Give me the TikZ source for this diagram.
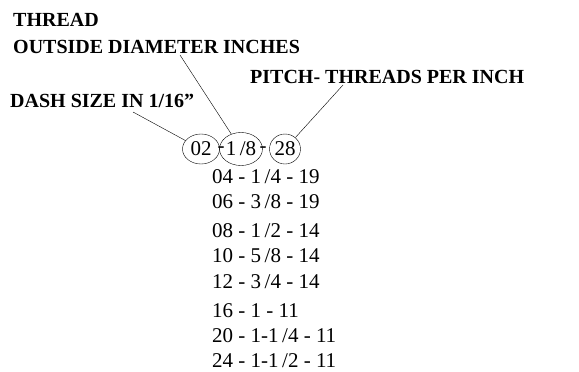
\documentclass[tikz,border=0pt]{standalone}
\usepackage{fontspec}
\setmainfont{Liberation Serif}
\usetikzlibrary{positioning,shapes.geometric}

\begin{document}
\begin{tikzpicture}[x=1pt,y=-1pt,
          every node/.style={inner sep=0pt,font=\fontsize{21}{25}\selectfont},
          label/.style={anchor=base west,font=\fontsize{20}{24}\selectfont\bfseries},
          ring/.style={ellipse,draw,thin,inner sep=0pt},
          leader/.style={draw,thin}]
        \useasboundingbox (0,0) rectangle (579,372);
        % labels
        \node[label] (thread) at (13,27) {THREAD};
        \node[label] (od) at (13,53) {OUTSIDE DIAMETER INCHES};
        \node[label] (pitch) at (250,83) {PITCH- THREADS PER INCH};
        \node[label] (dash) at (10,107) {DASH SIZE IN 1/16\textquotedblright};
        % circled example
        \node[ring,minimum width=37pt,minimum height=30pt] (d02) at (201,149) {02};
        \node[ring,minimum width=36pt,minimum height=33pt] (d18) at (241,149) {1\,/8};
        \node[ring,minimum width=31pt,minimum height=30pt] (d28) at (285,149) {28};
        \node (dsh1) at (221,150) {-};
        \node (dsh2) at (263,150) {-};
        % leaders
        \coordinate (p1) at (133,112);
        \coordinate (p2) at (180,55);
        \coordinate (p3) at (343,85);
        \draw[leader] (p1) -- (d02);
        \draw[leader] (p2) -- (d18);
        \draw[leader] (p3) -- (d28);
        % table rows
        \foreach \y/\txt [count=\i] in {183/{04 - 1\,/4 - 19}, 208/{06 - 3\,/8 - 19},
                 237/{08 - 1\,/2 - 14}, 262/{10 - 5\,/8 - 14}, 288/{12 - 3\,/4 - 14},
                 317/{16 - 1 - 11}, 342/{20 - 1-1\,/4 - 11}, 367/{24 - 1-1\,/2 - 11}}
            \node[anchor=base west] (row\i) at (212,\y) {\txt};
      \end{tikzpicture}
\end{document}
